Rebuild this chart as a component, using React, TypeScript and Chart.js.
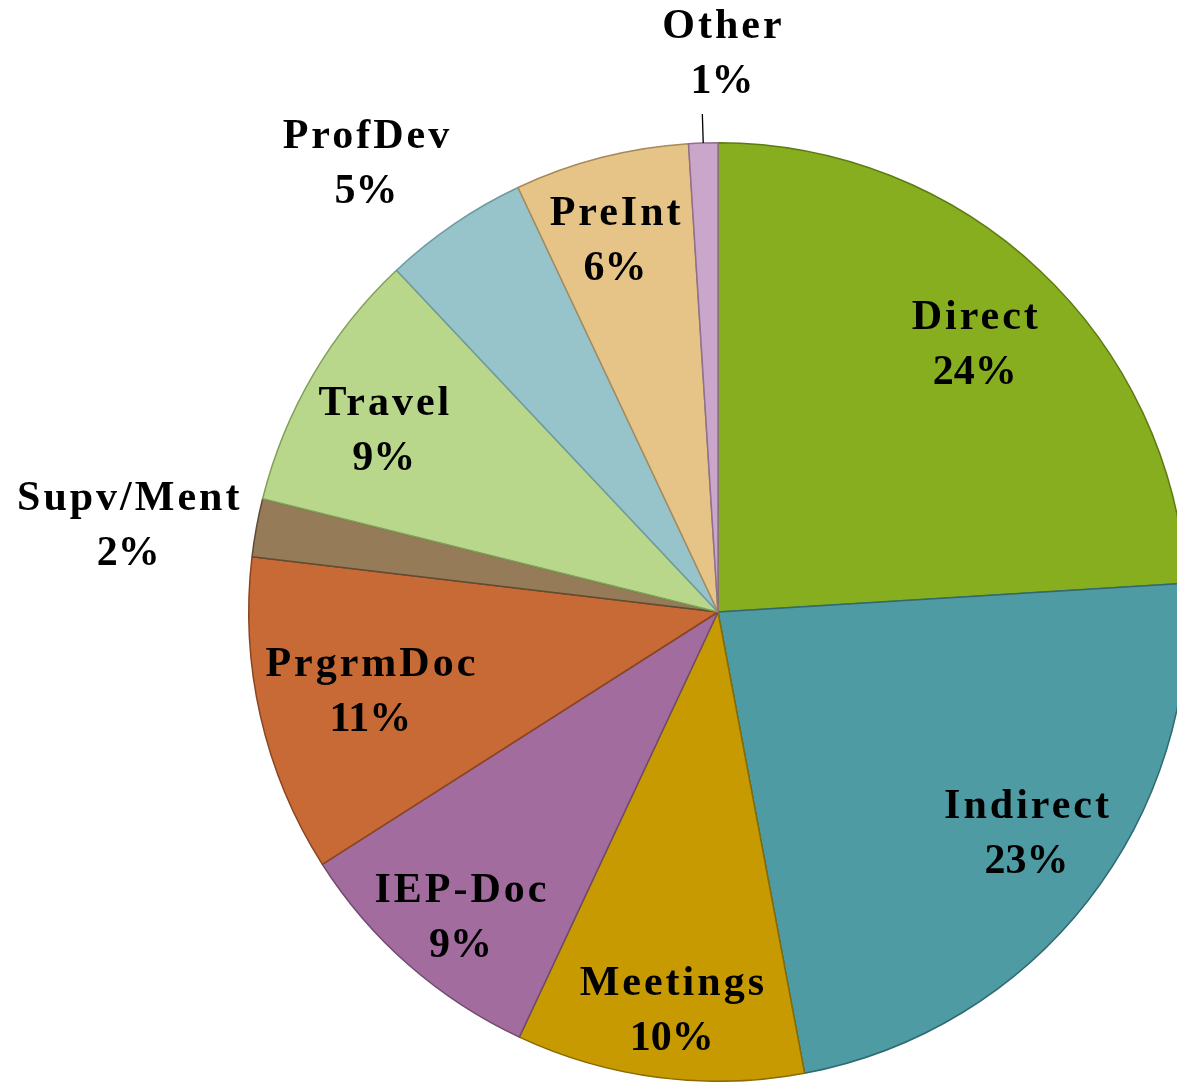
import React, { useEffect, useRef } from "react";
import { Chart, registerables } from "chart.js";

Chart.register(...registerables);

const categories = ["Direct", "Indirect", "Meetings", "IEP-Doc", "PrgrmDoc", "Supv/Ment", "Travel", "ProfDev", "PreInt", "Other"];
const values = [24.0, 23.0, 9.9, 9.0, 10.9, 2.0, 9.1, 5.0, 6.0, 1.0];
const fillColors = ["#87AE1F", "#4E9BA4", "#C69A00", "#A26C9E", "#C86A36", "#957B58", "#B9D78A", "#97C4CB", "#E6C487", "#CAA6CB"];
const borderColors = ["#5E7A14", "#2F6A72", "#8A6B00", "#6E4A6C", "#8A4520", "#5E4D35", "#80A05A", "#6E9AA1", "#A8895A", "#8F7090"];

// label placement (fraction of radius, angular shift in degrees)
const labelRadius = [0.79, 0.81, 0.855, 0.853, 0.76, 1.27, 0.81, 1.215, 0.82, 1.19];
const labelShift = [0.6, -2.2, -0.6, -1.2, 0, -2.1, -1.9, -3.9, -1.1, 2.2];
const leaderLines = [false, false, false, false, false, false, false, false, false, true];

const labelPlugin = {
  id: "sliceLabels",
  afterDatasetsDraw(chart: any) {
    const ctx = chart.ctx;
    const meta = chart.getDatasetMeta(0);
    const data = chart.data.datasets[0].data as number[];
    const total = data.reduce((a, b) => a + b, 0);
    ctx.save();
    ctx.fillStyle = "#000";
    ctx.textAlign = "center";
    ctx.textBaseline = "alphabetic";
    meta.data.forEach((arc: any, i: number) => {
      const { x, y, startAngle, endAngle, outerRadius } = arc.getProps(["x", "y", "startAngle", "endAngle", "outerRadius"], true);
      const mid = (startAngle + endAngle) / 2;
      if (leaderLines[i]) {
        ctx.strokeStyle = "#000";
        ctx.lineWidth = 1.3;
        ctx.beginPath();
        ctx.moveTo(x + Math.cos(mid) * outerRadius, y + Math.sin(mid) * outerRadius);
        ctx.lineTo(x + Math.cos(mid) * outerRadius * 1.062, y + Math.sin(mid) * outerRadius * 1.062);
        ctx.stroke();
      }
      const a = mid + (labelShift[i] * Math.PI) / 180;
      const r = outerRadius * labelRadius[i];
      const lx = x + Math.cos(a) * r;
      const ly = y + Math.sin(a) * r;
      const pct = Math.round((data[i] / total) * 100) + "%";
      ctx.font = "bold 42px 'Liberation Serif', serif";
      (ctx as any).letterSpacing = "3px";
      ctx.fillText(chart.data.labels[i], lx + 1.5, ly - 16);
      (ctx as any).letterSpacing = "0px";
      ctx.fillText(pct, lx, ly + 39);
    });
    ctx.restore();
  },
};

export default function App() {
  const ref = useRef<HTMLCanvasElement>(null);
  useEffect(() => {
    document.body.style.margin = "0";
    const chart = new Chart(ref.current!, {
      type: "pie",
      data: {
        labels: categories,
        datasets: [
          {
            data: values,
            backgroundColor: fillColors,
            borderColor: borderColors,
            borderWidth: 1.5,
          },
        ],
      },
      options: {
        animation: false,
        responsive: false,
        devicePixelRatio: 1,
        layout: { padding: { left: 248, top: 142, right: 12, bottom: 0 } },
        plugins: { legend: { display: false }, tooltip: { enabled: false } },
      },
      plugins: [labelPlugin],
    });
    return () => chart.destroy();
  }, []);
  return (
    <div style={{ position: "absolute", left: 0, top: 0, width: 1177, height: 1082, overflow: "hidden", background: "#fff" }}>
      <canvas ref={ref} width={1200} height={1082} style={{ width: 1200, height: 1082, display: "block" }} />
    </div>
  );
}
